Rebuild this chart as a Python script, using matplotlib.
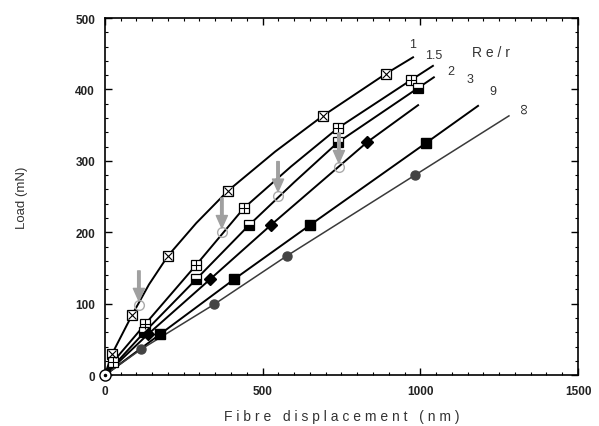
import matplotlib.pyplot as plt
import numpy as np

plt.rcParams['font.family'] = ['Liberation Sans', 'DejaVu Sans']

# data (x: fibre displacement nm, y: load mN)
x_1 = [0, 22, 86, 140, 200, 290, 390, 540, 691, 891, 977]
y_1 = [0, 29, 84, 127, 167, 213, 258, 313, 363, 422, 445]
m_1 = [0, 1, 2, 4, 6, 8, 9]

x_15 = [0, 25, 127, 289, 441, 590, 739, 970, 1040]
y_15 = [0, 18, 71, 154, 234, 292, 346, 413, 433]
m_15 = [1, 2, 3, 4, 6, 7]

x_2 = [0, 125, 289, 457, 600, 739, 993, 1043]
y_2 = [0, 60, 134, 210, 270, 326, 402, 417]
m_2 = [1, 2, 3, 5, 6]

x_3 = [0, 136, 333, 526, 831, 993]
y_3 = [0, 57, 134, 210, 326, 378]
m_3 = [1, 2, 3, 4]

x_9 = [0, 174, 409, 650, 1018, 1183]
y_9 = [0, 57, 134, 210, 325, 377]
m_9 = [1, 2, 3, 4]

x_inf = [0, 114, 346, 577, 983, 1281]
y_inf = [0, 36, 99, 167, 280, 363]
m_inf = [1, 2, 3, 4]

# onset points marked with grey arrows
onset_x = [108, 371, 549, 742]
onset_y = [98, 200, 251, 291]

curve_labels = ["1", "1.5", "2", "3", "9", "\u221e"]
label_x = [974, 1043, 1097, 1158, 1231, 1326]
label_y = [464, 448, 426, 415, 398, 375]

fig = plt.figure(figsize=(5.99, 4.27), dpi=100)
ax = fig.add_axes([0.175, 0.119, 0.79, 0.8365])

ms = 7
def pick(xs, ys, idx):
    return [xs[i] for i in idx], [ys[i] for i in idx]

# Re/r = 1 : crossed square
ax.plot(x_1, y_1, color='black', lw=1.4, zorder=2)
px, py = pick(x_1, y_1, m_1)
ax.plot(px, py, 's', ms=ms, mfc='white', mec='black', mew=0.9, zorder=3)
ax.plot(px, py, 'x', ms=ms - 1.5, mec='black', mew=0.8, zorder=4)

# Re/r = 1.5 : square with plus
ax.plot(x_15, y_15, color='black', lw=1.4, zorder=2)
px, py = pick(x_15, y_15, m_15)
ax.plot(px, py, 's', ms=ms, mfc='white', mec='black', mew=0.9, zorder=3)
ax.plot(px, py, '+', ms=ms, mec='black', mew=0.8, zorder=4)

# Re/r = 2 : half filled square
ax.plot(x_2, y_2, color='black', lw=1.4, zorder=2)
px, py = pick(x_2, y_2, m_2)
ax.plot(px, py, 's', ms=ms, mfc='black', mfcalt='white', fillstyle='bottom',
        mec='black', mew=0.9, zorder=3)

# Re/r = 3 : filled diamond
ax.plot(x_3, y_3, color='black', lw=1.4, zorder=2)
px, py = pick(x_3, y_3, m_3)
ax.plot(px, py, 'D', ms=ms - 0.5, mfc='black', mec='black', zorder=3)

# Re/r = 9 : filled square
ax.plot(x_9, y_9, color='black', lw=1.4, zorder=2)
px, py = pick(x_9, y_9, m_9)
ax.plot(px, py, 's', ms=ms + 0.5, mfc='black', mec='black', zorder=3)

# Re/r = inf : filled circle, thinner grey line
ax.plot(x_inf, y_inf, color='#3a3a3a', lw=1.1, zorder=2)
px, py = pick(x_inf, y_inf, m_inf)
ax.plot(px, py, 'o', ms=ms - 0.5, mfc='#444444', mec='#444444', zorder=3)

# origin marker
ax.plot([0], [0], 'o', ms=ms + 1, mfc='white', mec='black', mew=1.0, zorder=5, clip_on=False)
ax.plot([0], [0], '.', ms=3, color='black', zorder=6, clip_on=False)

# onset circles and arrows
ax.plot(onset_x, onset_y, 'o', ms=ms, mfc='none', mec='#aaaaaa', mew=1.0, zorder=5)
for ox, oy in zip(onset_x, onset_y):
    ax.annotate('', xy=(ox, oy + 6), xytext=(ox, oy + 48),
                arrowprops=dict(facecolor='#a0a0a0', edgecolor='#a0a0a0',
                                width=1.8, headwidth=8, headlength=9),
                zorder=6)

for lab, lx, ly in zip(curve_labels, label_x, label_y):
    rot = 90 if lab == "\u221e" else 0
    fs = 11 if lab == "\u221e" else 9
    ax.text(lx, ly, lab, fontsize=fs, color='#333333', ha='center', va='center', rotation=rot)
ax.text(1224, 452, "R e / r", fontsize=10, color='#333333', ha='center', va='center')

ax.set_xlim(0, 1500)
ax.set_ylim(0, 500)
ax.set_xticks([0, 500, 1000, 1500])
ax.set_yticks([0, 100, 200, 300, 400, 500])
ax.set_xticks(np.arange(0, 1501, 50), minor=True)
ax.set_yticks(np.arange(0, 501, 20), minor=True)
ax.tick_params(which='both', direction='in', top=True, right=True)
ax.tick_params(which='major', length=5, width=1.0, labelsize=8.5, pad=7)
ax.tick_params(which='minor', length=2.5, width=0.8)
for lab in ax.get_xticklabels() + ax.get_yticklabels():
    lab.set_fontweight('bold')
    lab.set_color('#222222')
for sp in ax.spines.values():
    sp.set_linewidth(1.2)

ax.set_xlabel("F i b r e   d i s p l a c e m e n t   ( n m )", fontsize=10, color='#333333', labelpad=9)
ax.set_ylabel("Load (mN)", fontsize=9.5, color='#333333', labelpad=34)

fig.savefig("out.png", dpi=100)
